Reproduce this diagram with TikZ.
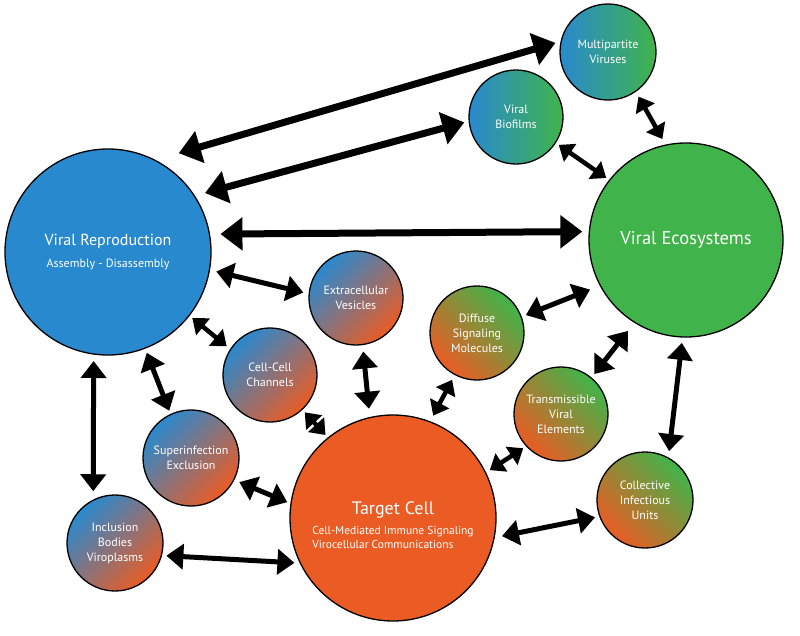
\documentclass[tikz,border=0pt]{standalone}
\usepackage{fontspec}
\setmainfont{PT Sans}
\usepackage{xcolor}
\usepackage{tikz}
\usetikzlibrary{arrows.meta}
\definecolor{vblue}{RGB}{41,137,207}
\definecolor{vgreen}{RGB}{64,180,74}
\definecolor{vorange}{RGB}{234,92,36}

\begin{document}
\begin{tikzpicture}[x=1pt,y=-1pt,
  bubble/.style={circle,draw=black,line width=1.3pt,inner sep=0pt,outer sep=0pt,text=white,align=center,font=\fontsize{12}{15}\selectfont},
  blueorange/.style={bubble,minimum size=94pt,top color=vblue,bottom color=vorange,shading angle=45},
  greenorange/.style={bubble,minimum size=94pt,top color=vgreen,bottom color=vorange,shading angle=-45},
  bluegreen/.style={bubble,minimum size=94pt,left color=vblue,right color=vgreen},
  bigarr/.style={line width=7pt,<->,>={Triangle[length=22pt,width=32pt]}},
  midarr/.style={line width=5pt,<->,>={Triangle[length=17pt,width=25pt]}},
  smallarr/.style={line width=4.5pt,<->,>={Triangle[length=14pt,width=21pt]}}]
\useasboundingbox (0,0) rectangle (800,635);
\node[bubble,fill=vblue,minimum size=206pt] (rep) at (108,252) {{\fontsize{16}{19}\selectfont Viral Reproduction}\\[7pt]{\fontsize{12}{14}\selectfont Assembly - Disassembly}};
\node[bubble,fill=vgreen,minimum size=194pt] (eco) at (686,240) {\fontsize{18.5}{22}\selectfont Viral Ecosystems};
\node[bubble,fill=vorange,minimum size=206pt] (tgt) at (393,518) {};
\node[text=white,align=center] (tgt-txt) at (393,527) {{\fontsize{18}{21}\selectfont Target Cell}\\[5pt]{\fontsize{11.5}{14}\selectfont\begin{tabular}{@{}l@{}}Cell-Mediated Immune Signaling\\Virocellular Communications\end{tabular}}};
\node[bluegreen,minimum size=96pt] (mult) at (608,52) {Multipartite\\Viruses};
\node[bluegreen] (bio) at (516,117) {Viral\\Biofilms};
\node[blueorange] (evs) at (356,298) {Extracellular\\Vesicles};
\node[blueorange] (ccc) at (270,375) {Cell-Cell\\Channels};
\node[blueorange,minimum size=96pt] (sie) at (191,458) {Superinfection\\Exclusion};
\node[blueorange,minimum size=96pt] (inc) at (115,543) {Inclusion\\Bodies\\Viroplasms};
\node[greenorange] (dsm) at (477,333) {Diffuse\\Signaling\\Molecules};
\node[greenorange] (tve) at (561,414) {Transmissible\\Viral\\Elements};
\node[greenorange,minimum size=96pt] (ciu) at (645,500) {Collective\\Infectious\\Units};
\draw[bigarr,shorten <=25pt,shorten >=6pt] (rep.63) -- (mult.167);
\draw[bigarr,shorten <=11pt,shorten >=5pt] (rep.33) -- (bio.185);
\draw[bigarr,shorten <=11pt,shorten >=7pt] (rep.10) -- (eco.175);
\draw[midarr,shorten <=7pt,shorten >=6pt] (rep.-10) -- (evs.175);
\draw[smallarr,shorten <=4pt,shorten >=5pt] (rep.-38) -- (ccc.147);
\draw[midarr,shorten <=5pt,shorten >=4pt] (rep.-69) -- (sie.115);
\draw[midarr,shorten <=7pt,shorten >=9pt] (rep.-98) -- (inc.117);
\draw[smallarr,shorten <=4pt,shorten >=4pt] (bio.-33) -- (eco.142);
\draw[smallarr,shorten <=6pt,shorten >=7pt] (mult.-55) -- (eco.102);
\draw[midarr,shorten <=11pt,shorten >=5pt] (eco.208) -- (dsm.20);
\draw[midarr,shorten <=11pt,shorten >=5pt] (eco.238) -- (tve.50);
\draw[midarr,shorten <=6pt,shorten >=7pt] (eco.268) -- (ciu.61);
\draw[midarr,shorten <=7pt,shorten >=9pt] (evs.278) -- (tgt.103);
\draw[smallarr,shorten <=4pt,shorten >=4pt] (ccc.-47) -- (tgt.129);
\draw[midarr,shorten <=6pt,shorten >=4pt] (sie.-27) -- (tgt.172);
\draw[midarr,shorten <=5pt,shorten >=6pt] (inc.-15) -- (tgt.206);
\draw[smallarr,shorten <=6pt,shorten >=7pt] (dsm.242) -- (tgt.69);
\draw[smallarr,shorten <=4pt,shorten >=5pt] (tve.223) -- (tgt.26);
\draw[midarr,shorten <=5pt,shorten >=8pt] (ciu.200) -- (tgt.-11);
\end{tikzpicture}
\end{document}
